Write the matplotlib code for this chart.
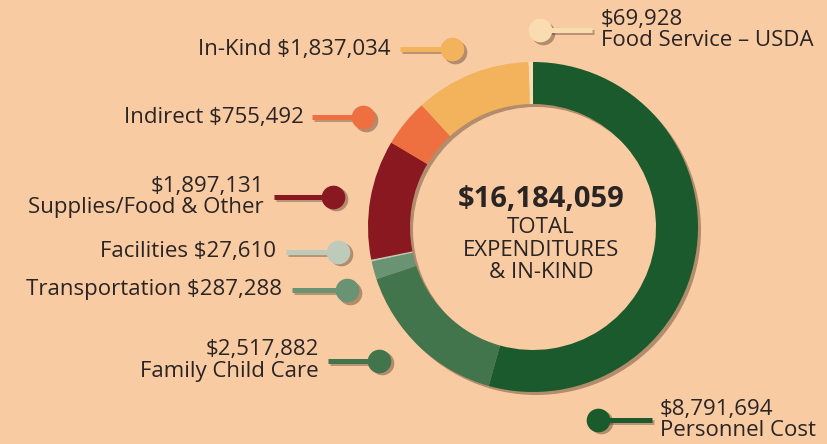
import numpy as np
import matplotlib.pyplot as plt
from matplotlib.patches import Wedge

# ---------------- data ----------------
categories = ['Personnel Cost', 'Family Child Care', 'Transportation', 'Facilities',
              'Supplies/Food & Other', 'Indirect', 'In-Kind', 'Food Service – USDA']
amounts = [8791694, 2517882, 287288, 27610, 1897131, 755492, 1837034, 69928]
colors = ['#1B5A2C', '#42754B', '#6A9374', '#BFCBBA',
          '#8A1820', '#EE7040', '#F3B25C', '#F9DCB0']
stacked = [True, True, False, False, True, False, False, True]
total = sum(amounts)

# callout layout in pixel coords (y from top): dot x, dot y, line end x, text x, side
layout = [
    (598, 420, 652, 660, 'right'),
    (379, 361, 328, 319, 'left'),
    (347, 290, 292, 282, 'left'),
    (338, 252, 286, 276, 'left'),
    (333, 197, 274, 264, 'left'),
    (363, 117, 312, 304, 'left'),
    (452, 49, 400, 390, 'left'),
    (540, 30, 592, 601, 'right'),
]

W, H = 827, 444
bg = '#F8CBA2'
txt = '#2A2424'
shadow = '#4a2e1e'
plt.rcParams['font.family'] = ['Open Sans', 'DejaVu Sans']

fig = plt.figure(figsize=(W / 100, H / 100), dpi=100)
fig.patch.set_facecolor(bg)
ax = fig.add_axes([0, 0, 1, 1])
ax.set_facecolor(bg)

cx, cy, R, ring = 533, H - 227, 165, 42

# shadow of the ring
ax.add_patch(Wedge((cx + 3, cy - 3), R, 0, 360, width=ring, facecolor=shadow,
                   alpha=0.4, edgecolor='none', zorder=1))
ax.pie(amounts, colors=colors, startangle=90, counterclock=False, radius=R,
       center=(cx, cy), wedgeprops=dict(width=ring, edgecolor='none', zorder=2))

# center text
ax.text(cx + 8, H - 199, f'${total:,}', ha='center', va='center', fontsize=21,
        fontweight='bold', color=txt)
for i, s in enumerate(['TOTAL', 'EXPENDITURES', '& IN-KIND']):
    ax.text(cx + 8, H - 227 - 23 * i, s, ha='center', va='center', fontsize=16, color=txt)

# callouts
for name, amt, col, st, (dx, dy, lx, tx, side) in zip(categories, amounts, colors, stacked, layout):
    y = H - dy
    ax.plot([lx + 2, dx + 2], [y - 2, y - 2], color=shadow, alpha=0.35, lw=3.6,
            solid_capstyle='butt', zorder=3)
    ax.plot([lx, dx], [y, y], color=col, lw=3.6, solid_capstyle='butt', zorder=4)
    ax.scatter([dx + 2.5], [y - 2.5], s=290, color=shadow, alpha=0.4, lw=0, zorder=3)
    ax.scatter([dx], [y], s=290, color=col, lw=0, zorder=5)
    ha = 'right' if side == 'left' else 'left'
    if st:
        ax.text(tx, y + 11, f'${amt:,}', ha=ha, va='center', fontsize=16, color=txt)
        ax.text(tx, y - 10.5, name, ha=ha, va='center', fontsize=16, color=txt)
    else:
        ax.text(tx, y, f'{name} ${amt:,}', ha=ha, va='center', fontsize=16, color=txt)

ax.set_xlim(0, W)
ax.set_ylim(0, H)
ax.set_aspect('equal')
ax.axis('off')

fig.savefig('out.png', dpi=100, facecolor=bg)
